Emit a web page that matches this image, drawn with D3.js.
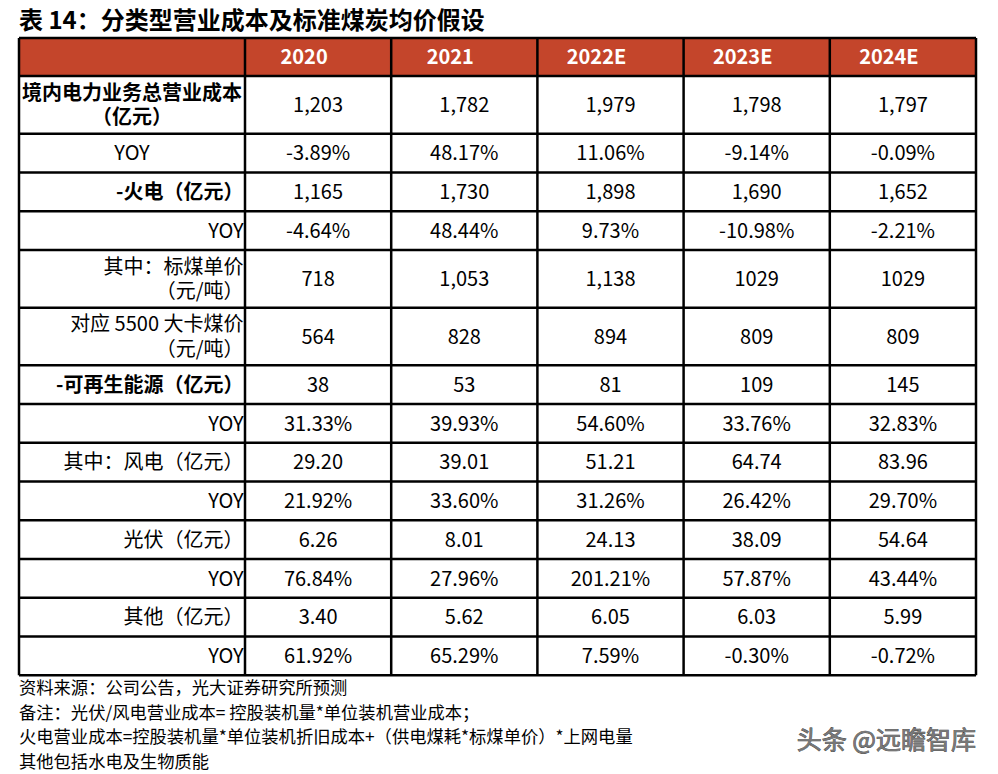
<!DOCTYPE html>
<html><head><meta charset="utf-8">
<script src="https://cdn.jsdelivr.net/npm/d3@7"></script>
<style>
html,body{margin:0;padding:0;background:#fff;}
svg text{font-family:"Noto Sans CJK SC","Noto Sans",sans-serif;}
</style></head>
<body><svg id="c" width="998" height="774"></svg>
<script>
const title = "表 14：分类型营业成本及标准煤炭均价假设";
const years = ["2020", "2021", "2022E", "2023E", "2024E"];
const rowLabels = [
  "境内电力业务总营业成本\n（亿元）",
  "YOY",
  "-火电（亿元）",
  "YOY",
  "其中：标煤单价\n（元/吨）",
  "对应 5500 大卡煤价\n（元/吨）",
  "-可再生能源（亿元）",
  "YOY",
  "其中：风电（亿元）",
  "YOY",
  "光伏（亿元）",
  "YOY",
  "其他（亿元）",
  "YOY"
];
const totalCost   = ["1,203", "1,782", "1,979", "1,798", "1,797"];
const totalYoy    = ["-3.89%", "48.17%", "11.06%", "-9.14%", "-0.09%"];
const thermal     = ["1,165", "1,730", "1,898", "1,690", "1,652"];
const thermalYoy  = ["-4.64%", "48.44%", "9.73%", "-10.98%", "-2.21%"];
const stdCoal     = ["718", "1,053", "1,138", "1029", "1029"];
const coal5500    = ["564", "828", "894", "809", "809"];
const renewable   = ["38", "53", "81", "109", "145"];
const renewYoy    = ["31.33%", "39.93%", "54.60%", "33.76%", "32.83%"];
const wind        = ["29.20", "39.01", "51.21", "64.74", "83.96"];
const windYoy     = ["21.92%", "33.60%", "31.26%", "26.42%", "29.70%"];
const solar       = ["6.26", "8.01", "24.13", "38.09", "54.64"];
const solarYoy    = ["76.84%", "27.96%", "201.21%", "57.87%", "43.44%"];
const other       = ["3.40", "5.62", "6.05", "6.03", "5.99"];
const otherYoy    = ["61.92%", "65.29%", "7.59%", "-0.30%", "-0.72%"];
const footnotes = [
  "资料来源：公司公告，光大证券研究所预测",
  "备注：光伏/风电营业成本= 控股装机量*单位装机营业成本；",
  "火电营业成本=控股装机量*单位装机折旧成本+（供电煤耗*标煤单价）*上网电量",
  "其他包括水电及生物质能"
];
const watermark = "头条 @远瞻智库";

const values = [totalCost, totalYoy, thermal, thermalYoy, stdCoal, coal5500,
  renewable, renewYoy, wind, windYoy, solar, solarYoy, other, otherYoy];

// styling (kept separate from data)
const boldRows = new Set([0, 2, 6]);
const centerRows = new Set([0, 1]);
const headColor = "#C4452B";

const svg = d3.select("#c");
const L = 19, R = 976, labelRight = 245, T = 38, headH = 38;
const lineH1 = 38.75, lineH2 = 57.7;

const x = d3.scaleBand().domain(years).range([labelRight, R]).paddingInner(0).paddingOuter(0);

// row positions
const heights = rowLabels.map(l => l.includes("\n") ? lineH2 : lineH1);
const ys = [];
let acc = T + headH;
heights.forEach(h => { ys.push(acc); acc += h; });
const B = acc;

// title
svg.append("text").attr("x", L).attr("y", 29)
  .attr("font-size", 24).attr("font-weight", "bold").attr("fill", "#000").text(title);

// header bg
svg.append("rect").attr("x", L).attr("y", T).attr("width", R - L).attr("height", headH)
  .attr("fill", headColor);
svg.selectAll("text.hd").data(years).join("text").attr("class", "hd")
  .attr("x", d => x(d) + x.bandwidth() / 2 - 14).attr("y", T + headH / 2)
  .attr("dy", "0.36em").attr("text-anchor", "middle")
  .attr("font-size", 20).attr("font-weight", "bold").attr("fill", "#fff").text(d => d);

// body rows
const g = svg.append("g");
rowLabels.forEach((lab, i) => {
  const y0 = ys[i], h = heights[i];
  const lines = lab.split("\n");
  const center = centerRows.has(i);
  const lt = g.append("text")
    .attr("text-anchor", center ? "middle" : "end")
    .attr("font-size", 20).attr("font-weight", boldRows.has(i) ? "bold" : "normal").attr("fill", "#000");
  const lx = center ? (L + labelRight) / 2 : labelRight - 1.5;
  const lh = 24.5;
  lines.forEach((ln, k) => {
    lt.append("tspan").attr("x", lx)
      .attr("y", y0 + h / 2 + (k - (lines.length - 1) / 2) * lh)
      .attr("dy", "0.36em").text(ln);
  });
  values[i].forEach((v, j) => {
    g.append("text").attr("x", x(years[j]) + x.bandwidth() / 2).attr("y", y0 + h / 2)
      .attr("dy", "0.36em").attr("text-anchor", "middle").attr("font-size", 20)
      .attr("fill", "#000").text(v);
  });
});

// grid lines
const grid = svg.append("g").attr("stroke", "#000").attr("stroke-width", 2.5);
[T, T + headH, ...ys.slice(1), B].forEach(yy => {
  grid.append("line").attr("x1", L).attr("x2", R).attr("y1", yy).attr("y2", yy);
});
[L, labelRight, ...years.slice(1).map(d => x(d)), R].forEach(xx => {
  grid.append("line").attr("x1", xx).attr("x2", xx).attr("y1", T).attr("y2", B);
});

// footnotes
svg.selectAll("text.fn").data(footnotes).join("text").attr("class", "fn")
  .attr("x", L).attr("y", (d, i) => 688 + i * 24.6).attr("dy", "0.36em")
  .attr("font-size", 17.3).attr("fill", "#000").text(d => d);

// watermark
svg.append("text").attr("x", R).attr("y", 740).attr("dy", "0.36em").attr("text-anchor", "end")
  .attr("font-size", 25).attr("fill", "#777").attr("stroke", "#333").attr("stroke-width", 0.7)
  .style("paint-order", "stroke").text(watermark);
</script></body></html>
